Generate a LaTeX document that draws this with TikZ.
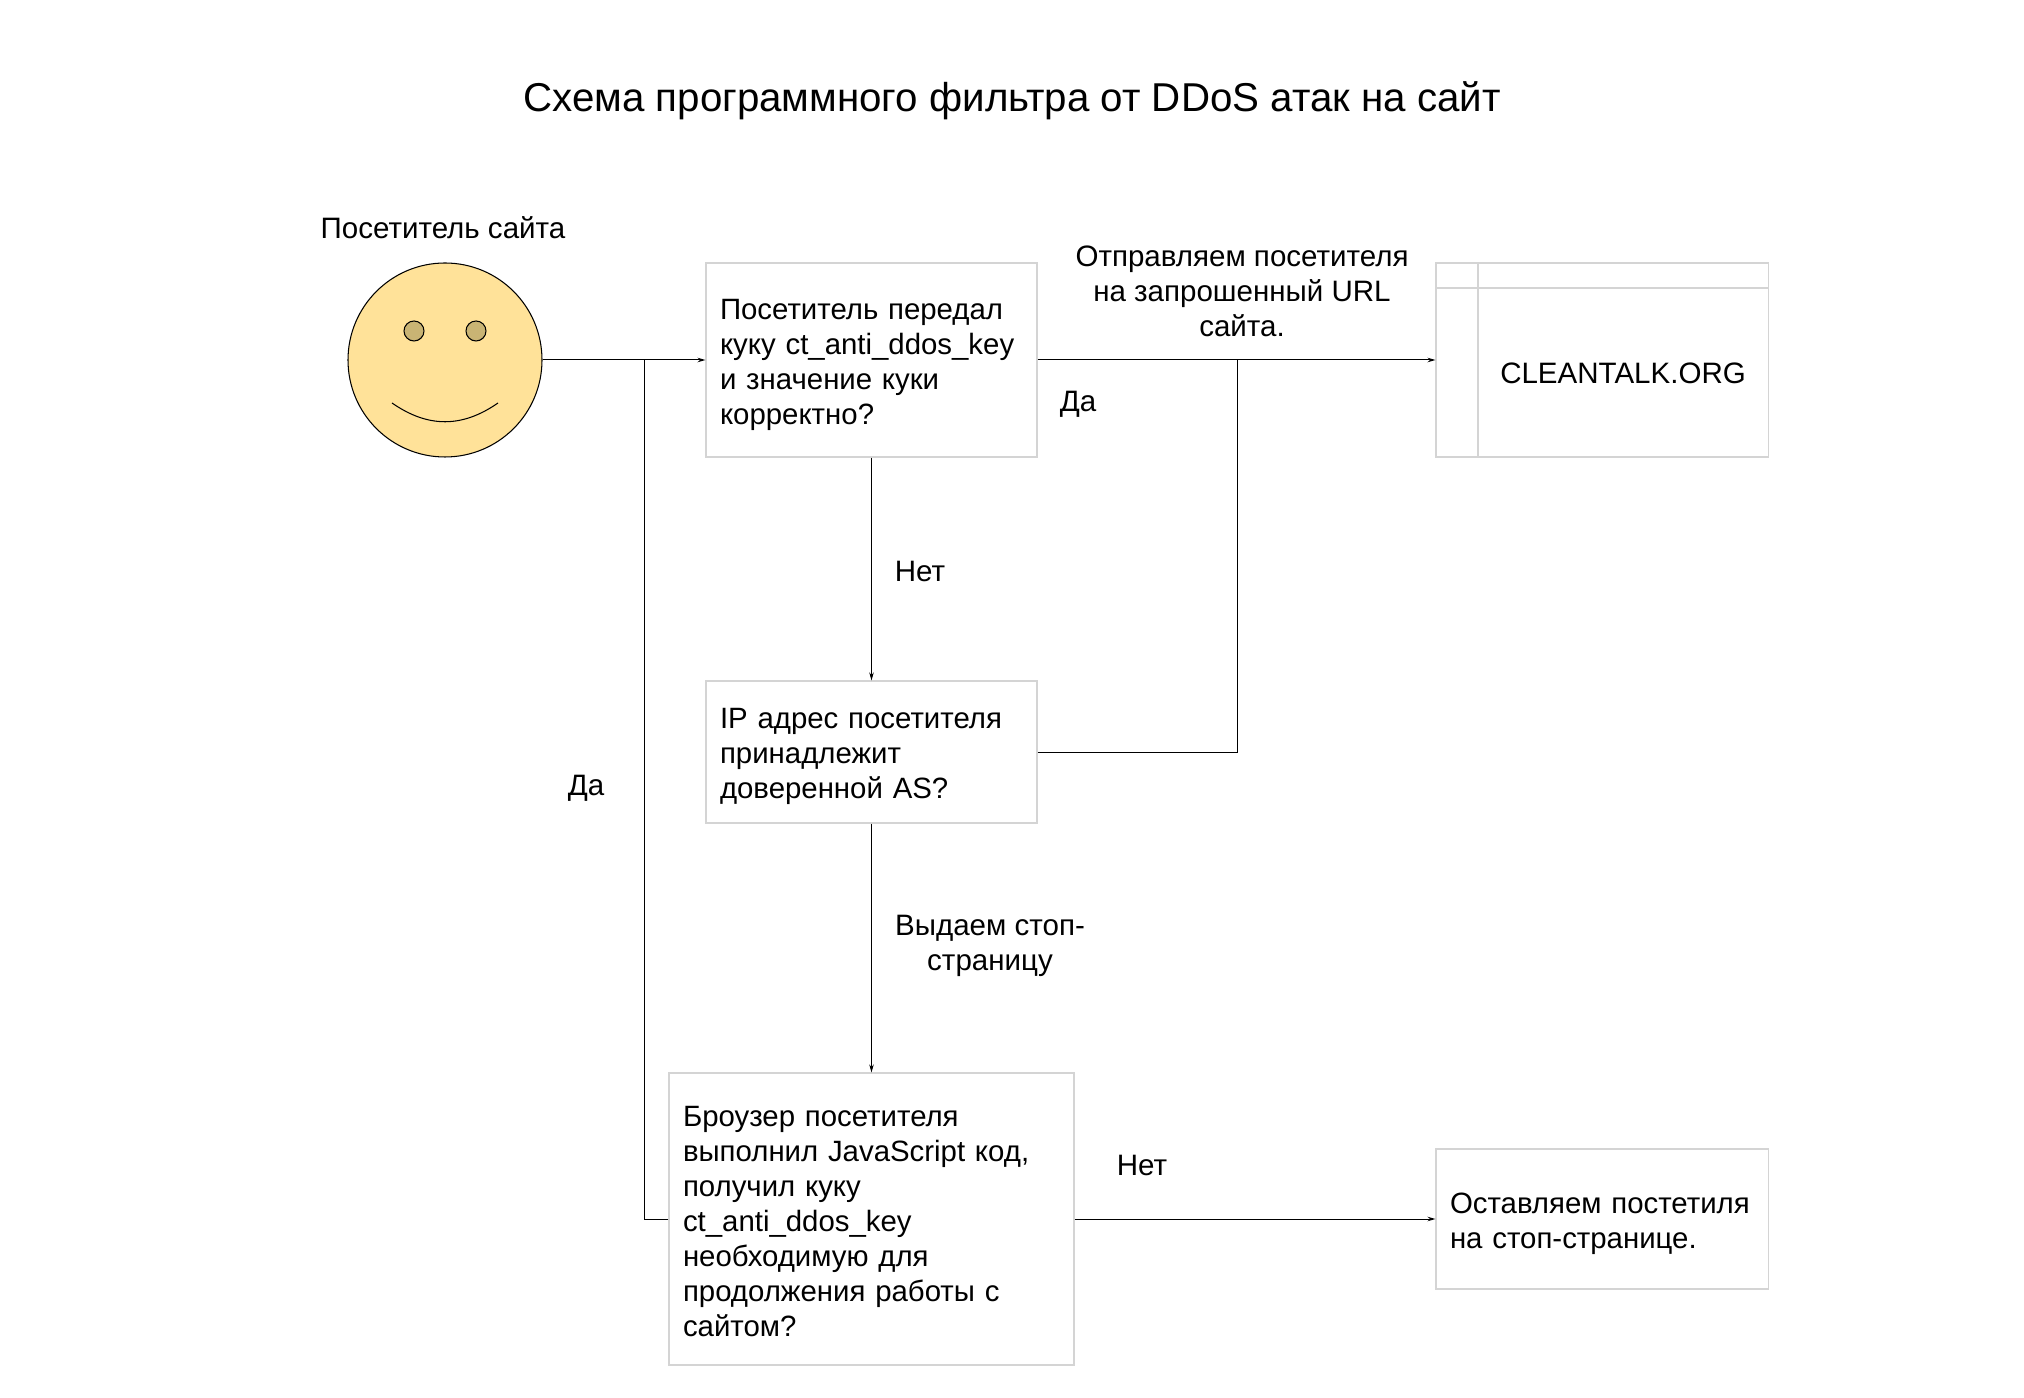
\documentclass[tikz,border=0pt]{standalone}
\usepackage{fontspec}
\setmainfont{Liberation Sans}
\usetikzlibrary{arrows.meta}
\definecolor{faceyellow}{HTML}{FFE299}
\definecolor{eyebrown}{HTML}{C9B474}
\tikzset{
	boxnode/.style={draw=black!17, line width=0.3pt, align=left, inner sep=0pt, font=\fontsize{8.36}{9.96}\selectfont},
	lowertext/.style={execute at begin node={\rule{0pt}{#1}}},
	labelnode/.style={align=center, inner sep=0pt, font=\fontsize{8.4}{9.96}\selectfont},
	linkline/.style={line width=0.28pt, -{Stealth[length=0.8mm,width=0.45mm]}},
	plainline/.style={line width=0.28pt}
}
\begin{document}
\begin{tikzpicture}
	%%%%% START %%%%%
	\useasboundingbox (0, 0) rectangle (20.24, 13.97);
	
	\node[labelnode, font=\fontsize{11.46}{13}\selectfont] (title) at (10.12, 12.96) {Схема программного фильтра от DDoS атак на сайт};
	
	\node[labelnode] (visitor) at (4.43, 11.69) {Посетитель сайта};
	\node[draw=black, fill=faceyellow, circle, minimum size=1.94cm, inner sep=0pt, line width=0.3pt] (face) at (4.45, 10.37) {};
	\draw[fill=eyebrown, line width=0.3pt] (4.14, 10.66) circle (0.1);
	\draw[fill=eyebrown, line width=0.3pt] (4.76, 10.66) circle (0.1);
	\draw[line width=0.3pt] (3.92, 9.94) .. controls (4.28, 9.69) and (4.62, 9.69) .. (4.98, 9.94);
	
	\node[boxnode, minimum width=3.31cm, minimum height=1.94cm, text width=3.03cm, lowertext=0.31cm] (cookie) at (8.715, 10.37) {Посетитель передал\\куку ct\_anti\_ddos\_key\\и значение куки\\корректно?};
	\node[boxnode, minimum width=3.31cm, minimum height=1.42cm, text width=3.03cm, lowertext=0.29cm] (trusted) at (8.715, 6.45) {IP адрес посетителя\\принадлежит\\доверенной AS?};
	\node[boxnode, minimum width=4.05cm, minimum height=2.92cm, text width=3.77cm, lowertext=0.26cm] (browser) at (8.715, 1.78) {Броузер посетителя\\выполнил JavaScript код,\\получил куку\\ct\_anti\_ddos\_key\\необходимую для\\продолжения работы с\\сайтом?};
	\node[boxnode, minimum width=3.32cm, minimum height=1.40cm, text width=3.04cm, lowertext=0.31cm] (stoppage) at (16.02, 1.78) {Оставляем постетиля\\на стоп-странице.};
	
	\node[boxnode, minimum width=3.32cm, minimum height=1.94cm] (site) at (16.02, 10.37) {};
	\draw[draw=black!17, line width=0.3pt] (14.78, 11.34) -- (14.78, 9.40);
	\draw[draw=black!17, line width=0.3pt] (14.36, 11.09) -- (17.68, 11.09);
	\node[labelnode] (sitename) at (16.23, 10.24) {CLEANTALK.ORG};
	
	\node[labelnode] (redirect) at (12.42, 11.06) {Отправляем посетителя\\на запрошенный URL\\сайта.};
	\node[labelnode] (yesright) at (10.78, 9.93) {Да};
	\node[labelnode] (notrust) at (9.20, 8.26) {Нет};
	\node[labelnode] (yesleft) at (5.86, 6.09) {Да};
	\node[labelnode] (givestop) at (9.90, 4.51) {Выдаем стоп-\\страницу};
	\node[labelnode] (nobrowser) at (11.42, 2.32) {Нет};
	
	\coordinate (joinleft) at (6.44, 10.37);
	\coordinate (joinright) at (12.37, 10.37);
	
	\draw[linkline] (face) -- (cookie);
	\draw[linkline] (cookie) -- (site);
	\draw[linkline] (cookie) -- (trusted);
	\draw[linkline] (trusted) -- (browser);
	\draw[linkline] (browser) -- (stoppage);
	\draw[plainline] (trusted) -| (joinright);
	\draw[plainline] (browser) -| (joinleft);
	%%%%% END %%%%%
\end{tikzpicture}
\end{document}
